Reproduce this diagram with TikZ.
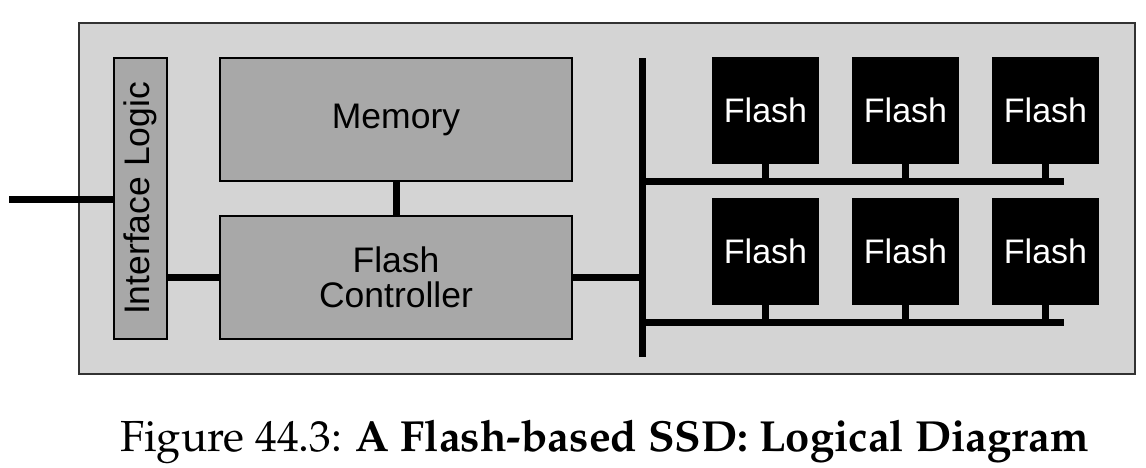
\documentclass[tikz,border=0pt]{standalone}
\usepackage[T1]{fontenc}
\usepackage{fontspec}
\usepackage{tikz}
\newfontfamily\diagfont{Liberation Sans}
\definecolor{ssdgray}{RGB}{212,212,212}
\definecolor{partgray}{RGB}{168,168,168}
\definecolor{edgegray}{RGB}{50,50,50}
\usetikzlibrary{positioning,chains}

\begin{document}
\begin{tikzpicture}[x=1pt,y=-1pt,
    every node/.style={inner sep=0pt,outer sep=0pt},
    ssdnode/.style={draw=edgegray,fill=ssdgray,line width=1.4pt},
    partnode/.style={draw=black,fill=partgray,line width=1.4pt,
        font=\diagfont\fontsize{35.5}{35}\selectfont,align=center},
    chipnode/.style={fill=black,text=white,minimum width=107pt,minimum height=107pt,
        font=\diagfont\fontsize{34}{35}\selectfont},
    link/.style={line width=7pt}
    ]
    \useasboundingbox (0,0) rectangle (1146,467);

    % the drive
    \node[ssdnode,minimum width=1056pt,minimum height=351pt] (ssd) at (607,198.5) {};

    % interface, memory and controller
    \node[partnode,minimum width=53pt,minimum height=281pt] (iface) at (140.5,198.5)
        {\rotatebox{90}{Interface Logic}};
    \node[partnode,minimum width=352pt,minimum height=123pt] (mem) at (396,119.5) {Memory};
    \node[partnode,minimum width=352pt,minimum height=123pt] (ctrl) at (396,277.5)
        {Flash\\Controller};

    % the flash chips
    \begin{scope}[start chain=going right,node distance=33pt]
    \node[chipnode,on chain] (f11) at (765.5,110.5) {Flash};
    \node[chipnode,on chain] (f12) {Flash};
    \node[chipnode,on chain] (f13) {Flash};
    \end{scope}
    \begin{scope}[start chain=going right,node distance=33pt]
    \node[chipnode,on chain,below=34pt of f11] (f21) {Flash};
    \node[chipnode,on chain] (f22) {Flash};
    \node[chipnode,on chain] (f23) {Flash};
    \end{scope}

    % the bus
    \coordinate (host) at (9,199);
    \coordinate (bustop) at (642,58);
    \coordinate (busbot) at (642,357);
    \coordinate (row1) at (642,181);
    \coordinate (row2) at (642,322);
    \coordinate (row1end) at (1064,181);
    \coordinate (row2end) at (1064,322);

    % the links
    \draw[link] (host) -- (iface.west |- host);
    \draw[link] (ctrl.west -| iface.east) -- (ctrl.west);
    \draw[link] (mem.south) -- (ctrl.north);
    \draw[link] (ctrl.east) -- (ctrl.east -| bustop);
    \draw[link] (bustop) -- (busbot);
    \draw[link] (row1) -- (row1end);
    \draw[link] (row2) -- (row2end);
    \foreach \c in {f11,f12,f13} \draw[link] (\c.south) -- (\c.south |- row1);
    \foreach \c in {f21,f22,f23} \draw[link] (\c.south) -- (\c.south |- row2);

    % the caption
    \node[anchor=base west] (caption) at (120,451)
        {\fontencoding{T1}\fontfamily{ppl}\fontsize{43.5}{48}\selectfont
        Figure 44.3: \textbf{A Flash-based SSD: Logical Diagram}};
\end{tikzpicture}
\end{document}
